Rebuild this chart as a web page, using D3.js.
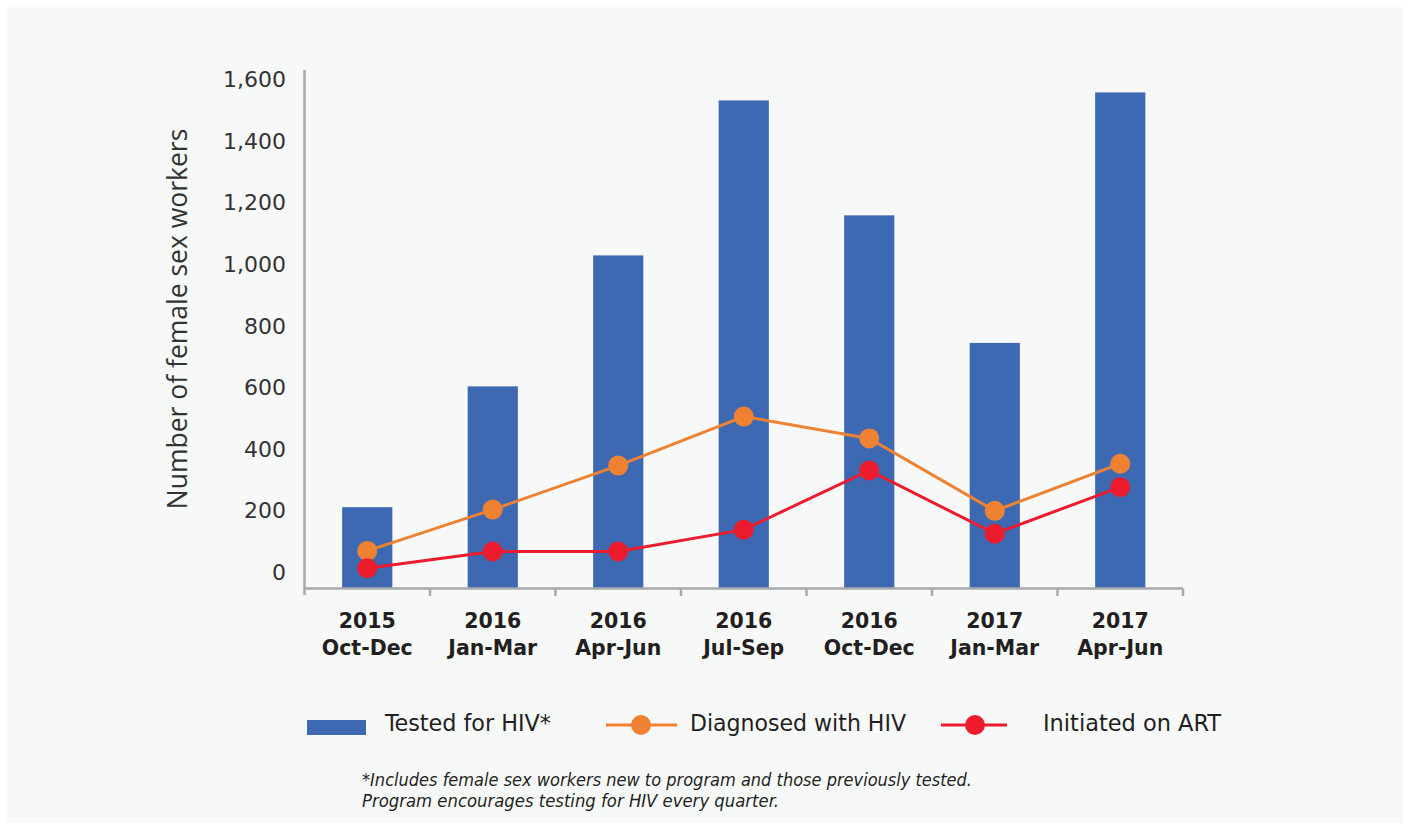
<!DOCTYPE html>
<html>
<head>
<meta charset="utf-8">
<script src="https://cdn.jsdelivr.net/npm/d3@7"></script>
<style>
  html, body { margin: 0; padding: 0; background: #ffffff; }
  svg { display: block; }
</style>
</head>
<body>
<svg id="chart" width="1408" height="827"></svg>
<script>
// ---- Data ----
const years = ["2015", "2016", "2016", "2016", "2016", "2017", "2017"];
const quarters = ["Oct-Dec", "Jan-Mar", "Apr-Jun", "Jul-Sep", "Oct-Dec", "Jan-Mar", "Apr-Jun"];
const tested = [264, 656, 1081, 1584, 1211, 797, 1610];
const diagnosed = [122, 256, 399, 558, 487, 252, 405];
const initiated = [66, 120, 120, 191, 383, 178, 329];
const yTicks = [0, 200, 400, 600, 800, 1000, 1200, 1400, 1600];
const legendLabels = ["Tested for HIV*", "Diagnosed with HIV", "Initiated on ART"];
const footnote = [
  "*Includes female sex workers new to program and those previously tested.",
  "Program encourages testing for HIV every quarter."
];

const colors = { bar: "#3d69b3", orange: "#ee8232", red: "#ec1c2e", axis: "#a7a9ac", text: "#231f20" };

const svg = d3.select("#chart");

// background panel
svg.append("rect").attr("x", 7).attr("y", 7).attr("width", 1396).attr("height", 816).attr("fill", "#f7f9f9");

const idx = d3.range(years.length);
const x = d3.scaleBand().domain(idx).range([304.5, 1183]).paddingInner(0.6).paddingOuter(0.3);
const y = d3.scaleLinear().domain([0, 1600]).range([588.5, 95.5]);
const cx = i => x(i) + x.bandwidth() / 2;

// bars
svg.append("g").selectAll("rect").data(idx).join("rect")
  .attr("x", i => x(i)).attr("width", x.bandwidth())
  .attr("y", i => y(tested[i])).attr("height", i => y(0) - y(tested[i]))
  .attr("fill", colors.bar);

// axes
const axisG = svg.append("g").attr("stroke", colors.axis).attr("stroke-width", 2.5).attr("fill", "none");
axisG.append("line").attr("x1", 304.5).attr("x2", 304.5).attr("y1", 70).attr("y2", 595);
axisG.append("line").attr("x1", 304.5).attr("x2", 1183).attr("y1", y(0)).attr("y2", y(0));
const bounds = idx.map(i => x(i) - x.step() * x.paddingInner() / 2).slice(1).concat([1183]);
axisG.selectAll("line.tick").data(bounds).join("line").attr("class", "tick")
  .attr("x1", d => d).attr("x2", d => d).attr("y1", y(0)).attr("y2", 596);

// y tick labels
svg.append("g").selectAll("text").data(yTicks).join("text")
  .attr("x", 286).attr("y", d => y(d) - 16)
  .attr("text-anchor", "end").attr("dominant-baseline", "central")
  .attr("font-family", "DejaVu Sans, sans-serif").attr("font-size", 22)
  .attr("fill", "#333333")
  .text(d => d3.format(",")(d));

// y axis title
svg.append("text")
  .attr("transform", "translate(187,319) rotate(-90)")
  .attr("text-anchor", "middle")
  .attr("font-family", "Open Sans, sans-serif").attr("font-size", 26.5)
  .attr("fill", "#333333")
  .text("Number of female sex workers");

// x labels (two lines)
const xl = svg.append("g").attr("font-family", "DejaVu Sans, sans-serif").attr("font-weight", "bold")
  .attr("font-size", 20.5).attr("fill", colors.text).attr("text-anchor", "middle");
xl.selectAll("text.yr").data(idx).join("text").attr("class", "yr")
  .attr("x", i => cx(i)).attr("y", 628).text(i => years[i]);
xl.selectAll("text.q").data(idx).join("text").attr("class", "q")
  .attr("x", i => cx(i)).attr("y", 655).text(i => quarters[i]);

// lines
function drawSeries(vals, color) {
  const line = d3.line().x((d, i) => cx(i)).y(d => y(d));
  svg.append("path").datum(vals).attr("d", line)
    .attr("fill", "none").attr("stroke", color).attr("stroke-width", 3);
  svg.append("g").selectAll("circle").data(vals).join("circle")
    .attr("cx", (d, i) => cx(i)).attr("cy", d => y(d)).attr("r", 10).attr("fill", color);
}
drawSeries(diagnosed, colors.orange);
drawSeries(initiated, colors.red);

// legend
const lg = svg.append("g");
const legFont = "Liberation Sans Narrow, DejaVu Sans Condensed, Roboto, sans-serif";
lg.append("rect").attr("x", 307).attr("y", 720).attr("width", 59).attr("height", 15).attr("fill", colors.bar);
lg.append("line").attr("x1", 606).attr("x2", 677).attr("y1", 725).attr("y2", 725).attr("stroke", colors.orange).attr("stroke-width", 3);
lg.append("circle").attr("cx", 641).attr("cy", 725).attr("r", 10).attr("fill", colors.orange);
lg.append("line").attr("x1", 941).attr("x2", 1007).attr("y1", 725).attr("y2", 725).attr("stroke", colors.red).attr("stroke-width", 3);
lg.append("circle").attr("cx", 975).attr("cy", 725).attr("r", 10).attr("fill", colors.red);
const legPos = [[385, 166], [690, 216], [1043, 178]];
lg.selectAll("text").data(legendLabels).join("text")
  .attr("x", (d, i) => legPos[i][0]).attr("y", 731)
  .attr("textLength", (d, i) => legPos[i][1]).attr("lengthAdjust", "spacingAndGlyphs")
  .attr("font-family", legFont).attr("font-size", 23).attr("fill", colors.text)
  .text(d => d);

// footnote
const fnW = [610, 417];
svg.append("g").selectAll("text").data(footnote).join("text")
  .attr("x", 362).attr("y", (d, i) => 786 + i * 21)
  .attr("textLength", (d, i) => fnW[i]).attr("lengthAdjust", "spacingAndGlyphs")
  .attr("font-family", legFont).attr("font-style", "italic").attr("font-size", 17)
  .attr("fill", colors.text)
  .text(d => d);
</script>
</body>
</html>
